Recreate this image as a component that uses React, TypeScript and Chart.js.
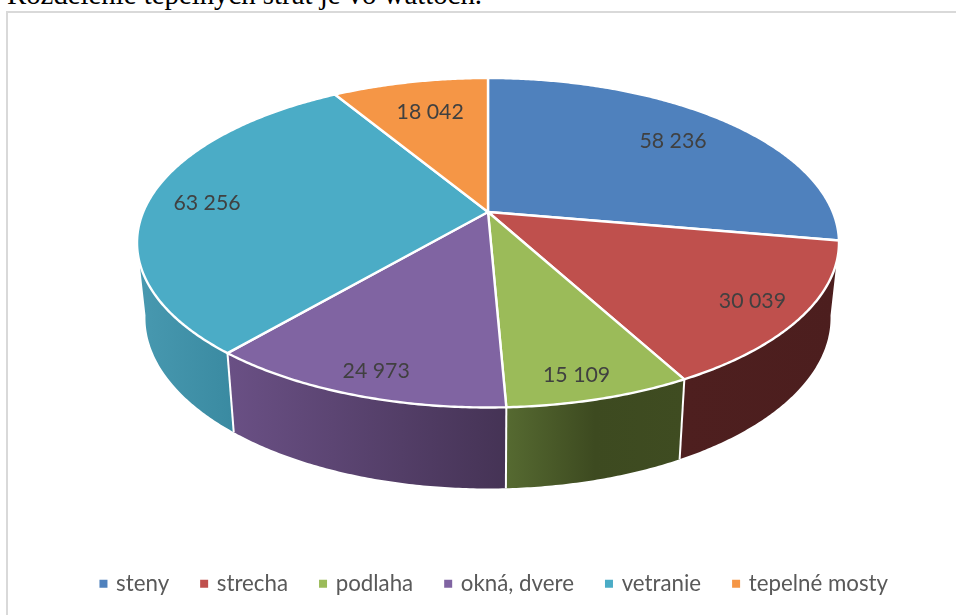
import React, { useEffect, useRef } from "react";
import { Chart, registerables } from "chart.js";

Chart.register(...registerables);

const categories = ["steny", "strecha", "podlaha", "okná, dvere", "vetranie", "tepelné mosty"];
const heatLoss = [58236, 30039, 15109, 24973, 63256, 18042];
const valueLabels = ["58 236", "30 039", "15 109", "24 973", "63 256", "18 042"];
const topColors = ["#4f81bd", "#bf504d", "#9bbb59", "#8064a2", "#4bacc6", "#f59646"];

// Wall shading per slice, left to right across the visible side of the disc.
const wallShades: string[][] = [
  ["#3a5a85"],
  ["#4e1f1f", "#4c1e1e"],
  ["#566a31", "#3d4a20", "#3f4c21"],
  ["#6a5085", "#453355"],
  ["#4899b0", "#3a8aa1"],
  ["#b06a30"],
];
// Where each value label sits, as a fraction of the radius from the apex, and a small turn in degrees.
const labelRadius = [0.765, 0.857, 0.883, 0.882, 0.827, 0.746];
const labelTurn = [0, 0, 1.3, -0.9, -0.3, 0.7];

// Perspective view of the unit disc.
const APEX_X = 488;
const APEX_Y = 212;
const SCALE_X = 344.8;
const SCALE_Y = 159;
const TILT = 0.1867;
// Lower rim of the disc relative to the upper rim.
const RIM_SCALE_X = 0.976;
const RIM_SCALE_Y = 1.036;
const RIM_SHIFT_Y = 66.3;
const WALL_FROM = (10 * Math.PI) / 180;
const WALL_TO = (170 * Math.PI) / 180;

const project = (u: number, v: number) => {
  const w = 1 - TILT * v;
  return { x: APEX_X + (SCALE_X * u) / w, y: APEX_Y + (SCALE_Y * v) / w };
};
const rim = (a: number) => project(Math.cos(a), Math.sin(a));
const lowerRim = (a: number) => {
  const p = rim(a);
  return { x: APEX_X + (p.x - APEX_X) * RIM_SCALE_X, y: p.y * RIM_SCALE_Y + RIM_SHIFT_Y };
};

const pie3d = {
  id: "pie3d",
  beforeDraw(chart: any) {
    const { ctx } = chart;
    ctx.save();
    ctx.strokeStyle = "#d9d9d9";
    ctx.lineWidth = 2;
    ctx.strokeRect(7, 12, 980, 640);
    ctx.restore();
  },
  beforeDatasetDraw(chart: any, args: any) {
    const { ctx } = chart;
    const arcs = args.meta.data;
    const STEP = Math.PI / 360;

    // side walls
    arcs.forEach((arc: any, i: number) => {
      const s = Math.max(arc.startAngle, WALL_FROM);
      const e = Math.min(arc.endAngle, WALL_TO);
      if (e <= s) return;
      const top: any[] = [];
      const low: any[] = [];
      for (let a = s; a < e; a += STEP) {
        top.push(rim(a));
        low.push(lowerRim(a));
      }
      top.push(rim(e));
      low.push(lowerRim(e));
      const xs = [...top, ...low].map((p) => p.x);
      const g = ctx.createLinearGradient(Math.min(...xs), 0, Math.max(...xs), 0);
      const shades = wallShades[i];
      shades.forEach((c, k) => g.addColorStop(shades.length > 1 ? k / (shades.length - 1) : 0, c));
      ctx.beginPath();
      top.forEach((p, k) => (k ? ctx.lineTo(p.x, p.y) : ctx.moveTo(p.x, p.y)));
      low.reverse().forEach((p) => ctx.lineTo(p.x, p.y));
      ctx.closePath();
      ctx.fillStyle = g;
      ctx.fill();
    });
    // white seams between walls
    arcs.forEach((arc: any) => {
      const a = arc.endAngle;
      if (a <= WALL_FROM || a >= WALL_TO) return;
      const p = rim(a);
      const q = lowerRim(a);
      ctx.beginPath();
      ctx.moveTo(p.x, p.y);
      ctx.lineTo(q.x, q.y);
      ctx.strokeStyle = "#ffffff";
      ctx.lineWidth = 2;
      ctx.stroke();
    });
    // top face
    arcs.forEach((arc: any, i: number) => {
      const s = arc.startAngle;
      const e = arc.endAngle;
      ctx.beginPath();
      ctx.moveTo(APEX_X, APEX_Y);
      for (let a = s; a < e; a += STEP) {
        const p = rim(a);
        ctx.lineTo(p.x, p.y);
      }
      const last = rim(e);
      ctx.lineTo(last.x, last.y);
      ctx.closePath();
      ctx.fillStyle = topColors[i];
      ctx.fill();
      ctx.strokeStyle = "#ffffff";
      ctx.lineWidth = 2.4;
      ctx.lineJoin = "round";
      ctx.stroke();
    });
    return false;
  },
  afterDatasetsDraw(chart: any) {
    const { ctx } = chart;
    const arcs = chart.getDatasetMeta(0).data;
    ctx.save();
    ctx.font = "21.3px Lato";
    ctx.fillStyle = "#404040";
    ctx.textAlign = "center";
    ctx.textBaseline = "middle";
    arcs.forEach((arc: any, i: number) => {
      const mid = (arc.startAngle + arc.endAngle) / 2 + (labelTurn[i] * Math.PI) / 180;
      const p = project(labelRadius[i] * Math.cos(mid), labelRadius[i] * Math.sin(mid));
      ctx.fillText(valueLabels[i], p.x, p.y + 1);
    });
    ctx.restore();
  },
};

export default function App() {
  const ref = useRef<HTMLCanvasElement>(null);
  useEffect(() => {
    const chart = new Chart(ref.current as HTMLCanvasElement, {
      type: "pie",
      data: {
        labels: categories,
        datasets: [{ data: heatLoss, backgroundColor: topColors, borderWidth: 0 }],
      },
      options: {
        responsive: false,
        animation: false,
        layout: { padding: { left: 34, bottom: 10 } },
        plugins: {
          tooltip: { enabled: false },
          legend: {
            position: "bottom",
            labels: {
              usePointStyle: true,
              pointStyle: "rect",
              boxWidth: 3,
              boxHeight: 8,
              padding: 33.5,
              color: "#595959",
              font: { family: "Lato", size: 22.3 },
            },
          },
        },
      },
      plugins: [pie3d],
    } as any);
    return () => chart.destroy();
  }, []);
  return (
    <div style={{ position: "absolute", left: 0, top: 0, width: 956, height: 615, overflow: "hidden", background: "#fff" }}>
      <div
        style={{
          position: "absolute",
          left: 7,
          top: -18,
          fontFamily: "'Liberation Serif'",
          fontSize: 28.8,
          lineHeight: "24px",
          color: "#000",
          whiteSpace: "nowrap",
        }}
      >
        Rozdelenie tepelných strát je vo wattoch.
      </div>
      <canvas ref={ref} width={956} height={615} style={{ position: "absolute", left: 0, top: 0 }} />
    </div>
  );
}
